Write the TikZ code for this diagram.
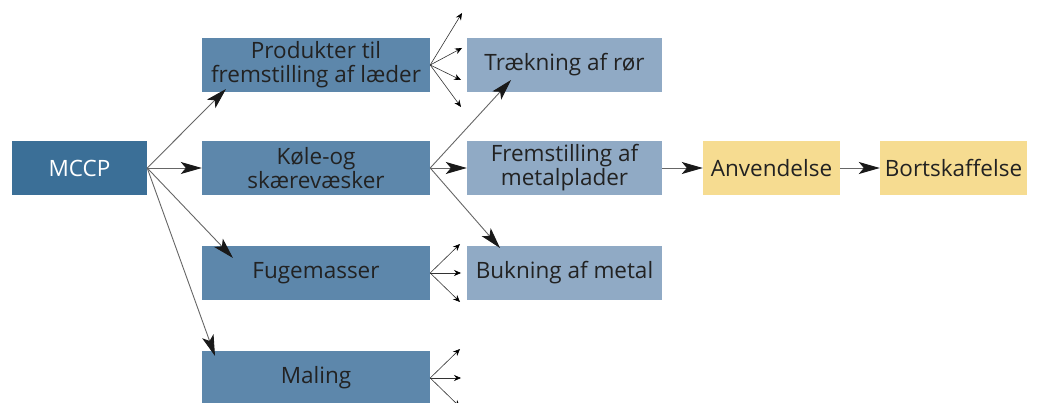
\documentclass[tikz,border=0pt]{standalone}
\usepackage{fontspec}
\setmainfont{Open Sans}
\usetikzlibrary{arrows.meta}

\definecolor{darkblue}{HTML}{3B6F97}
\definecolor{midblue}{HTML}{5D87AB}
\definecolor{lightblue}{HTML}{90AAC5}
\definecolor{paleyellow}{HTML}{F6DC91}
\definecolor{txt}{HTML}{222222}

\tikzset{
  box/.style = {inner sep=0pt, align=center, text=txt, font=\fontsize{22.5}{24}\selectfont},
  big/.style = {-{Stealth[length=21pt,width=12pt,inset=5pt,color=black!90]}, draw=black!60, line width=0.9pt},
  small/.style = {-{Stealth[length=7pt,width=6pt,color=black]}, draw=black!80, line width=0.6pt}
}

\begin{document}
\begin{tikzpicture}[x=1pt, y=1pt]
\useasboundingbox (0,0) rectangle (1040,-403);
% boxes
\node [box, fill=darkblue, text=white, minimum width=135, minimum height=54] (mccp) at (79.5,-168) {MCCP};
\node [box, fill=midblue, minimum width=228, minimum height=54] (prod) at (316,-65) {Produkter til\\fremstilling af læder};
\node [box, fill=midblue, minimum width=228, minimum height=54] (kole) at (316,-168) {Køle-og\\skærevæsker};
\node [box, fill=midblue, minimum width=228, minimum height=54] (fuge) at (316,-273) {Fugemasser};
\node [box, fill=midblue, minimum width=228, minimum height=54] (maling) at (316,-378) {Maling};
\node [box, fill=lightblue, minimum width=195, minimum height=54] (traek) at (564.5,-65) {Trækning af rør};
\node [box, fill=lightblue, minimum width=195, minimum height=54] (frem) at (564.5,-168) {Fremstilling af\\metalplader};
\node [box, fill=lightblue, minimum width=195, minimum height=54] (bukn) at (564.5,-273) {Bukning af metal};
\node [box, fill=paleyellow, minimum width=137, minimum height=54] (anv) at (771.5,-168) {Anvendelse};
\node [box, fill=paleyellow, minimum width=147, minimum height=54] (bort) at (953.5,-168) {Bortskaffelse};
% free ends
\coordinate (p1) at (462,-13);
\coordinate (p2) at (462,-48);
\coordinate (p3) at (461,-80);
\coordinate (p4) at (461,-107);
\coordinate (f1) at (460,-244);
\coordinate (f2) at (461,-273);
\coordinate (f3) at (460,-302);
\coordinate (m1) at (460,-349);
\coordinate (m2) at (461,-378);
\coordinate (m3) at (460,-407);
% arrows
\draw [big] (mccp.east) -- (226,-89);
\draw [big] (mccp.east) -- (kole.west);
\draw [big] (mccp.east) -- (233,-258);
\draw [big] (mccp.east) -- (215,-356);
\draw [big] (kole.east) -- (511,-80);
\draw [big] (kole.east) -- (frem.west);
\draw [big] (kole.east) -- (500,-248);
\draw [big] (frem.east) -- (anv.west);
\draw [big] (anv.east) -- (bort.west);
\foreach \t in {p1,p2,p3,p4} \draw [small] (prod.east) -- (\t);
\foreach \t in {f1,f2,f3} \draw [small] (fuge.east) -- (\t);
\foreach \t in {m1,m2,m3} \draw [small] (maling.east) -- (\t);
\end{tikzpicture}
\end{document}
